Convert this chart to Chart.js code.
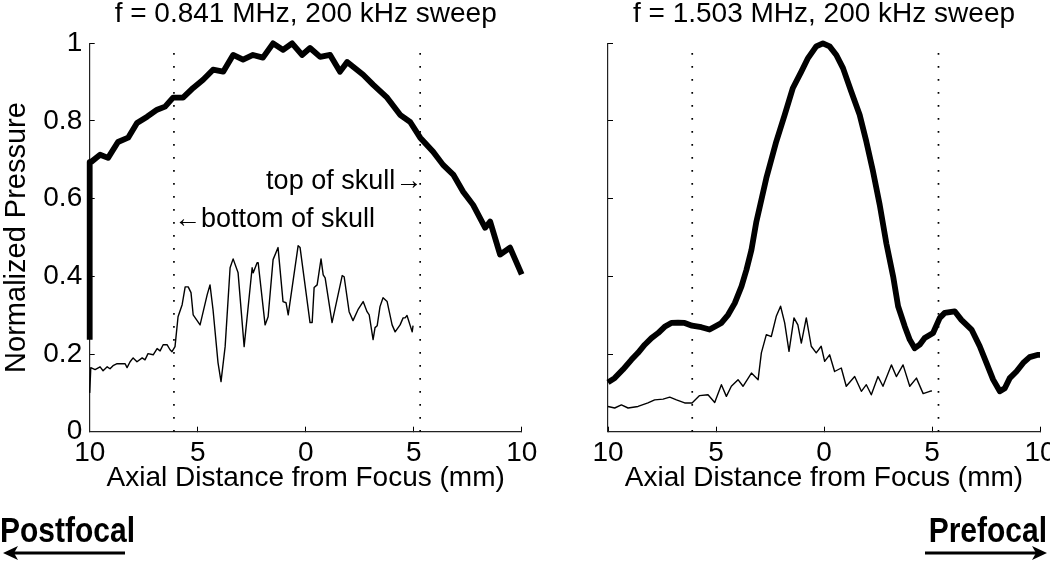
<!DOCTYPE html>
<html><head><meta charset="utf-8">
<script src="https://cdn.jsdelivr.net/npm/chart.js@4/dist/chart.umd.min.js"></script>
<style>
html,body{margin:0;padding:0;background:#fff;width:1050px;height:561px;overflow:hidden;}
#wrapL{position:absolute;left:0;top:0;width:560px;height:561px;}
#wrapR{position:absolute;left:520px;top:0;width:530px;height:561px;}
canvas{display:block}
</style></head><body>
<div id="wrapL"><canvas id="cL" width="560" height="561"></canvas></div>
<div id="wrapR"><canvas id="cR" width="530" height="561"></canvas></div>
<script>
// ---------- data (axial distance in mm, normalized pressure) ----------
const xTickValues = [-10, -5, 0, 5, 10];
const yTickValues = [0, 0.2, 0.4, 0.6, 0.8, 1];
const yTickLabels = ['0', '0.2', '0.4', '0.6', '0.8', '1'];
const skullEdges = [-6.1, 5.3];

// 0.841 MHz, free field (thick)
const f084FreeX = [-10,-10,-9.90,-9.52,-9.15,-8.69,-8.22,-7.81,-7.34,-6.88,-6.51,-6.14,-5.68,-5.21,-4.75,-4.29,-3.82,-3.36,-2.90,-2.44,-1.98,-1.51,-1.05,-0.63,-0.17,0.20,0.67,1.13,1.59,1.92,2.66,3.13,3.77,4.37,4.83,5.30,5.90,6.36,6.83,7.29,7.75,8.31,8.54,9.00,9.46,10];
const f084FreeY = [0.237,0.695,0.696,0.713,0.705,0.746,0.757,0.795,0.811,0.829,0.837,0.860,0.860,0.885,0.906,0.932,0.927,0.970,0.958,0.970,0.963,1.0,0.983,1.0,0.970,0.988,0.965,0.970,0.927,0.952,0.919,0.893,0.860,0.816,0.798,0.757,0.721,0.687,0.662,0.618,0.584,0.525,0.541,0.456,0.474,0.405];
// 0.841 MHz, through skull (thin)
const f084SkullX = [-10,-9.95,-9.75,-9.52,-9.38,-9.19,-9.06,-8.92,-8.73,-8.36,-8.27,-8.13,-7.99,-7.81,-7.57,-7.44,-7.30,-7.06,-6.88,-6.74,-6.60,-6.42,-6.28,-6.19,-6.05,-5.91,-5.72,-5.58,-5.44,-5.31,-5.21,-4.89,-4.56,-4.43,-4.29,-4.06,-3.92,-3.73,-3.50,-3.36,-3.13,-2.85,-2.48,-2.43,-2.25,-2.20,-1.88,-1.74,-1.51,-1.28,-1.05,-0.91,-0.81,-0.35,-0.26,0.20,0.30,0.39,0.53,0.71,0.81,0.90,1.22,1.69,1.78,2.01,2.19,2.42,2.66,2.84,2.94,3.12,3.21,3.31,3.44,3.58,3.77,4.00,4.14,4.37,4.51,4.60,4.69,4.93,4.97];
const f084SkullY = [0.10,0.165,0.160,0.167,0.157,0.167,0.162,0.170,0.175,0.175,0.165,0.180,0.190,0.180,0.190,0.185,0.201,0.198,0.214,0.208,0.224,0.224,0.211,0.206,0.219,0.296,0.327,0.373,0.373,0.358,0.301,0.275,0.353,0.378,0.314,0.178,0.129,0.219,0.422,0.445,0.409,0.219,0.422,0.409,0.435,0.435,0.275,0.296,0.443,0.474,0.335,0.332,0.301,0.479,0.474,0.281,0.281,0.371,0.378,0.445,0.404,0.396,0.281,0.402,0.399,0.309,0.286,0.314,0.335,0.309,0.301,0.237,0.268,0.273,0.322,0.345,0.335,0.275,0.257,0.275,0.293,0.293,0.299,0.257,0.273];
// 1.503 MHz, free field (thick)
const f150FreeX = [-10,-9.69,-9.31,-8.92,-8.61,-8.30,-7.99,-7.68,-7.38,-7.07,-6.76,-6.45,-6.11,-5.68,-5.30,-4.98,-4.75,-4.44,-4.13,-3.82,-3.59,-3.36,-3.13,-2.67,-2.21,-1.82,-1.44,-1.05,-0.74,-0.36,-0.05,0.26,0.57,0.88,1.26,1.65,1.96,2.27,2.58,2.89,3.20,3.43,3.74,3.97,4.20,4.43,4.66,5.05,5.36,5.59,6.05,6.36,6.83,7.21,7.52,7.83,8.14,8.37,8.60,8.91,9.22,9.52,9.91,10];
const f150FreeY = [0.127,0.138,0.160,0.185,0.203,0.224,0.241,0.254,0.270,0.280,0.281,0.280,0.273,0.269,0.263,0.273,0.280,0.301,0.331,0.374,0.417,0.468,0.541,0.653,0.747,0.816,0.885,0.927,0.962,0.992,1.0,0.992,0.970,0.936,0.876,0.816,0.747,0.670,0.584,0.484,0.400,0.323,0.271,0.237,0.215,0.224,0.241,0.254,0.293,0.306,0.310,0.288,0.263,0.220,0.177,0.134,0.104,0.112,0.138,0.155,0.177,0.192,0.198,0.198];
// 1.503 MHz, through skull (thin)
const f150SkullX = [-10,-9.69,-9.38,-9.07,-8.61,-8.15,-7.84,-7.45,-7.14,-6.83,-6.45,-6.11,-5.76,-5.37,-5.06,-4.75,-4.52,-4.29,-3.98,-3.75,-3.36,-3.05,-2.90,-2.67,-2.44,-2.21,-2.01,-1.82,-1.62,-1.39,-1.21,-1.05,-0.82,-0.59,-0.36,-0.13,0.03,0.26,0.49,0.80,1.03,1.42,1.73,1.96,2.19,2.50,2.73,3.12,3.35,3.66,3.97,4.28,4.59,4.90,5.0];
const f150SkullY = [0.065,0.061,0.069,0.061,0.065,0.074,0.082,0.084,0.089,0.082,0.074,0.074,0.093,0.095,0.075,0.121,0.091,0.117,0.134,0.117,0.151,0.134,0.203,0.250,0.245,0.297,0.323,0.280,0.207,0.293,0.275,0.228,0.293,0.220,0.203,0.220,0.181,0.198,0.155,0.164,0.117,0.142,0.104,0.121,0.095,0.142,0.117,0.172,0.142,0.172,0.117,0.138,0.098,0.104,0.105];

const titles = ['f = 0.841 MHz, 200 kHz sweep', 'f = 1.503 MHz, 200 kHz sweep'];
const xAxisTitle = 'Axial Distance from Focus (mm)';
const yAxisTitle = 'Normalized Pressure';
const directionLabels = ['Postfocal', 'Prefocal'];

// ---------- rendering ----------
const FONT = "'Liberation Sans', Arial, Helvetica, sans-serif";
const zip = (xs, ys) => xs.map((x, i) => ({x: x, y: ys[i]}));

function skullLine(x) {
  return {data: [{x: x, y: 0}, {x: x, y: 1}], borderColor: '#000', borderWidth: 1.7,
    borderDash: [1.7, 11.3], pointRadius: 0, fill: false, tension: 0};
}
function curve(xs, ys, w) {
  return {data: zip(xs, ys), borderColor: '#000', borderWidth: w, pointRadius: 0,
    fill: false, tension: 0, borderJoinStyle: 'round', borderCapStyle: 'butt', clip: false};
}

const notesPlugin = {
  id: 'notes',
  afterDraw(chart, args, opts) {
    const ctx = chart.ctx;
    const xs = chart.scales.x, ys = chart.scales.y;
    ctx.save();
    ctx.fillStyle = '#000';
    (opts.labels || []).forEach(n => {
      ctx.font = n.font;
      ctx.textAlign = n.align;
      ctx.textBaseline = 'middle';
      ctx.fillText(n.text, xs.getPixelForValue(n.x) + n.dx, ys.getPixelForValue(n.y));
    });
    (opts.corner || []).forEach(c => {
      ctx.save();
      ctx.font = c.font;
      ctx.textBaseline = 'alphabetic';
      ctx.textAlign = 'left';
      const ref = ctx.measureText('Postfocal').width;
      const k = 135 / ref;               // condensed bold look
      const w = ctx.measureText(c.text).width * k;
      const left = c.align === 'right' ? c.tx - w : c.tx;
      ctx.translate(left, c.ty);
      ctx.scale(k, 1);
      ctx.fillText(c.text, 0, 0);
      ctx.restore();
      ctx.strokeStyle = '#000';
      ctx.fillStyle = '#000';
      ctx.lineWidth = 3;
      const d = c.x1 > c.x0 ? -1 : 1;
      ctx.beginPath();
      ctx.moveTo(c.x0, c.y); ctx.lineTo(c.x1 + d * 6, c.y);
      ctx.stroke();
      ctx.beginPath();
      ctx.moveTo(c.x1, c.y); ctx.lineTo(c.x1 + d * 15, c.y - 7); ctx.lineTo(c.x1 + d * 11, c.y);
      ctx.lineTo(c.x1 + d * 15, c.y + 7); ctx.closePath();
      ctx.fill();
    });
    ctx.restore();
  }
};

function makePanel(id, p) {
  return new Chart(document.getElementById(id), {
    type: 'line',
    data: {datasets: [
      skullLine(skullEdges[0]), skullLine(skullEdges[1]),
      curve(p.freeX, p.freeY, 5.8), curve(p.skullX, p.skullY, 1.4)
    ]},
    plugins: [notesPlugin],
    options: {
      responsive: false, animation: false, devicePixelRatio: 1,
      layout: {padding: {left: 0, right: p.padRight, top: 0, bottom: 61}},
      plugins: {
        legend: {display: false}, tooltip: {enabled: false},
        title: {display: true, text: p.title, fullSize: false, color: '#000',
          font: {family: FONT, size: 28, weight: 'normal', lineHeight: 1.0},
          padding: {top: 0, bottom: 15.3}},
        notes: {labels: p.labels, corner: p.corner}
      },
      scales: {
        x: {type: 'linear', min: -10, max: 10,
          afterBuildTicks: s => { s.ticks = xTickValues.map(v => ({value: v})); },
          ticks: {color: '#000', font: {family: FONT, size: 28}, padding: 9.3, maxRotation: 0, autoSkip: false,
            callback: v => String(Math.abs(v))},
          grid: {drawOnChartArea: false, tickLength: -5, color: '#000', tickWidth: 1},
          border: {color: '#222', width: 1.2},
          title: {display: true, text: xAxisTitle, color: '#000', font: {family: FONT, size: 28, lineHeight: 1.2},
            padding: {top: 0, bottom: 5.2}},
          afterFit: s => { s.height = 68.3; s.paddingLeft = 0; s.paddingRight = 0; }
        },
        y: {type: 'linear', min: 0, max: 1,
          afterBuildTicks: s => { s.ticks = yTickValues.map(v => ({value: v})); },
          ticks: {display: p.showY, color: '#000', font: {family: FONT, size: 28}, padding: 12.5,
            callback: (v, i) => yTickLabels[i]},
          grid: {drawOnChartArea: false, tickLength: -5, color: '#000', tickWidth: 1},
          border: {color: '#222', width: 1.2},
          title: {display: p.showY, text: yAxisTitle, color: '#000', font: {family: FONT, size: 29, lineHeight: 1.15},
            padding: {top: 0, bottom: 0}},
          afterFit: s => { s.width = p.yWidth; s.paddingTop = 0; s.paddingBottom = 0; }
        }
      }
    }
  });
}

makePanel('cL', {
  title: titles[0], freeX: f084FreeX, freeY: f084FreeY, skullX: f084SkullX, skullY: f084SkullY,
  padRight: 560 - 521.7, yWidth: 89.7, showY: true,
  labels: [
    {text: 'top of skull\u2192', x: skullEdges[1], y: 0.644, dx: 2, align: 'right', font: '27px ' + FONT},
    {text: '\u2190bottom of skull', x: skullEdges[0], y: 0.547, dx: 0, align: 'left', font: '27px ' + FONT}
  ],
  corner: [{text: directionLabels[0], tx: 0, ty: 542, align: 'left', font: 'bold 35px ' + FONT, x0: 125, x1: 3, y: 553}]
});
makePanel('cR', {
  title: titles[1], freeX: f150FreeX, freeY: f150FreeY, skullX: f150SkullX, skullY: f150SkullY,
  padRight: 10, yWidth: 88, showY: false,
  labels: [],
  corner: [{text: directionLabels[1], tx: 527, ty: 542, align: 'right', font: 'bold 35px ' + FONT, x0: 405, x1: 527, y: 553}]
});
</script>
</body></html>
